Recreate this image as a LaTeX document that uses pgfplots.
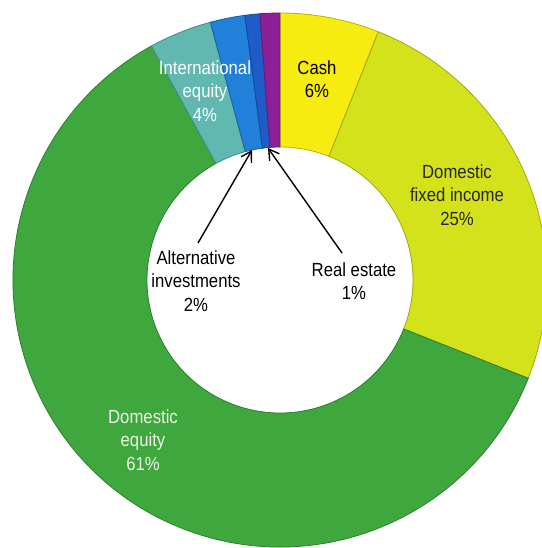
\documentclass[border=0pt]{standalone}
\usepackage{pgfplots}
\pgfplotsset{compat=1.18}
\usepackage{fontspec}
\setmainfont{Liberation Sans}
\usetikzlibrary{arrows.meta}
\definecolor{cCash}{RGB}{246,236,16}
\definecolor{cFixed}{RGB}{212,226,28}
\definecolor{cDomEq}{RGB}{62,168,62}
\definecolor{cIntl}{RGB}{96,184,176}
\definecolor{cAlt}{RGB}{32,128,218}
\definecolor{cReal}{RGB}{32,92,200}
\definecolor{cOther}{RGB}{140,32,150}
\definecolor{cLight}{RGB}{238,242,228}
% cumulative shares (percent), clockwise from 12 o'clock
% slice: start, end, colour
\newcommand{\slice}[3]{%
  \fill[#3, draw=#3!75!black, line width=0.4pt]
    (axis cs:280,268) ++({90-3.6*#1}:133.5pt)
    arc[start angle={90-3.6*#1}, end angle={90-3.6*#2}, radius=133.5pt]
    -- ++({270-3.6*#2}:67pt)
    arc[start angle={90-3.6*#2}, end angle={90-3.6*#1}, radius=66.5pt]
    -- cycle;}
\begin{document}
\begin{tikzpicture}
\path[use as bounding box] (0,0) rectangle (271pt,274pt);
\clip (0,0) rectangle (271pt,274pt);
\begin{axis}[
  x=0.5pt, y=0.5pt,
  xmin=0, xmax=542, ymin=0, ymax=548,
  scale only axis, hide axis, clip=false,
  at={(0,0)}, anchor=origin,
]
% Cash 6, Domestic fixed income 25, Domestic equity 61,
% International equity 3.8, Alternative 2.1, Real estate 0.9, other 1.2
\slice{0}{6}{cCash}
\slice{6}{31}{cFixed}
\slice{31}{92}{cDomEq}
\slice{92}{95.8}{cIntl}
\slice{95.8}{97.9}{cAlt}
\slice{97.9}{98.8}{cReal}
\slice{98.8}{100}{cOther}
\tikzset{lbl/.style={align=center, inner sep=0pt, xscale=0.88,
  font=\fontsize{9.5}{11.7}\selectfont}}
\node[lbl, text=white] at (axis cs:205,457) {International\\equity\\4\%};
\node[lbl, text=black] at (axis cs:317,469) {Cash\\6\%};
\node[lbl, text=black!85] at (axis cs:457,353) {Domestic\\fixed income\\25\%};
\node[lbl, text=black] at (axis cs:196,267) {Alternative\\investments\\2\%};
\node[lbl, text=black] at (axis cs:354,267) {Real estate\\1\%};
\node[lbl, text=cLight] at (axis cs:143,108) {Domestic\\equity\\61\%};
\draw[-{Straight Barb[length=5pt,width=6pt]}, line width=0.7pt]
  (axis cs:198,305) -- (axis cs:252,398);
\draw[-{Straight Barb[length=5pt,width=6pt]}, line width=0.7pt]
  (axis cs:342,295) -- (axis cs:268,400);
\end{axis}
\end{tikzpicture}
\end{document}
